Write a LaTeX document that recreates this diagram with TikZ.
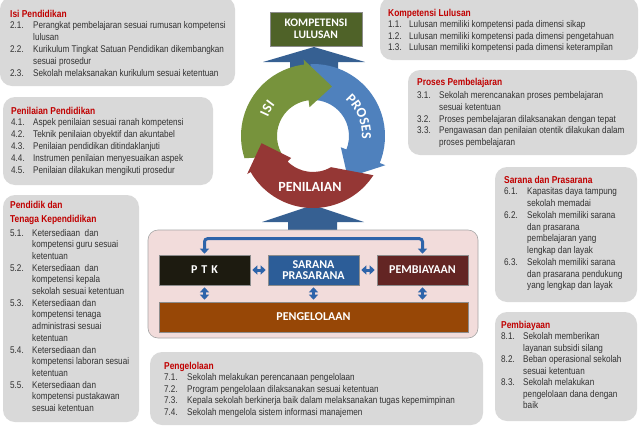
\documentclass[tikz,border=0pt]{standalone}
\usepackage{fontspec}
\setmainfont{Liberation Sans}
\newfontfamily\bodyf[FakeStretch=0.84]{Liberation Sans}
\newfontfamily\headf{Carlito}
\usetikzlibrary{arrows.meta,calc,decorations.text}
\definecolor{boxgray}{RGB}{217,217,217}
\definecolor{titlered}{RGB}{192,0,0}
\definecolor{bodytxt}{RGB}{50,50,50}
\definecolor{olivebox}{RGB}{79,98,40}
\definecolor{cgreen}{RGB}{119,147,60}
\definecolor{cblue}{RGB}{79,129,189}
\definecolor{cred}{RGB}{149,55,53}
\definecolor{upblue}{RGB}{54,96,146}
\definecolor{pinkbg}{RGB}{242,220,219}
\definecolor{ptkc}{RGB}{29,27,16}
\definecolor{sarc}{RGB}{44,93,152}
\definecolor{pembc}{RGB}{99,37,35}
\definecolor{pengc}{RGB}{151,71,6}
\definecolor{connc}{RGB}{46,100,170}
\newcommand\ttl[1]{\multicolumn{2}{@{}l@{}}{\textcolor{titlered}{\fontsize{10}{11}\selectfont\bfseries #1}}}
\newcommand\bsize[1]{\bodyf\fontsize{9.7}{#1}\selectfont}
\tikzset{
  graybox/.style={fill=boxgray, rounded corners=12pt},
  txtblock/.style={anchor=base west, inner sep=0pt, text=bodytxt},
  centerbox/.style={draw=black!45, line width=0.6pt, text=white, align=center, inner sep=0pt,
    font=\headf\bfseries\fontsize{12}{12}\selectfont},
  conn/.style={draw=connc, line width=3pt, {Triangle[width=9pt,length=5pt]}-{Triangle[width=9pt,length=5pt]}},
  cyctext/.style={text=white, inner sep=0pt, font=\headf\bfseries\fontsize{14}{14}\selectfont},
}
\begin{document}
\begin{tikzpicture}[x=1pt,y=-1pt]
\useasboundingbox (0,0) rectangle (640,426);
\fill[white] (0,0) rectangle (640,426);

% ---------- gray text boxes ----------
\path[graybox] (0,-3) rectangle (235,86);
\path[graybox] (3,97) rectangle (213,185);
\path[graybox] (3,195) rectangle (139,422);
\path[graybox] (380,-3) rectangle (638,60);
\path[graybox] (408,70) rectangle (637,155);
\path[graybox] (495,167) rectangle (637,302);
\path[graybox] (495,312) rectangle (637,421);
\path[graybox] (150,352) rectangle (483,425);

\node[txtblock] (t1) at (10,17) {\bsize{11.8}%
\begin{tabular}[t]{@{}p{23pt}@{}l@{}}
\ttl{Isi Pendidikan}\\
2.1. & Perangkat pembelajaran sesuai rumusan kompetensi\\
 & lulusan\\
2.2. & Kurikulum Tingkat Satuan Pendidikan dikembangkan\\
 & sesuai prosedur\\
2.3. & Sekolah melaksanakan kurikulum sesuai ketentuan
\end{tabular}};

\node[txtblock] (t2) at (11,114) {\bsize{11.8}%
\begin{tabular}[t]{@{}p{22pt}@{}l@{}}
\ttl{Penilaian Pendidikan}\\
4.1. & Aspek penilaian sesuai ranah kompetensi\\
4.2. & Teknik penilaian obyektif dan akuntabel\\
4.3. & Penilaian pendidikan ditindaklanjuti\\
4.4. & Instrumen penilaian menyesuaikan aspek\\
4.5. & Penilaian dilakukan mengikuti prosedur
\end{tabular}};

\node[txtblock] (t3) at (10,208) {\bsize{11.7}%
\begin{tabular}[t]{@{}p{22pt}@{}l@{}}
\ttl{Pendidik dan}\\[2.3pt]
\ttl{Tenaga Kependidikan}\\[2.3pt]
5.1. & Ketersediaan\ \ dan\\
 & kompetensi guru sesuai\\
 & ketentuan\\
5.2. & Ketersediaan\ \ dan\\
 & kompetensi kepala\\
 & sekolah sesuai ketentuan\\
5.3. & Ketersediaan dan\\
 & kompetensi tenaga\\
 & administrasi sesuai\\
 & ketentuan\\
5.4. & Ketersediaan dan\\
 & kompetensi laboran sesuai\\
 & ketentuan\\
5.5. & Ketersediaan dan\\
 & kompetensi pustakawan\\
 & sesuai ketentuan
\end{tabular}};

\node[txtblock] (t4) at (388,16) {\bsize{11.5}%
\begin{tabular}[t]{@{}p{21pt}@{}l@{}}
\ttl{Kompetensi Lulusan}\\
1.1. & Lulusan memiliki kompetensi pada dimensi sikap\\
1.2. & Lulusan memiliki kompetensi pada dimensi pengetahuan\\
1.3. & Lulusan memiliki kompetensi pada dimensi keterampilan
\end{tabular}};

\node[txtblock] (t5) at (417,85) {\bsize{11.7}%
\begin{tabular}[t]{@{}p{22pt}@{}l@{}}
\ttl{Proses Pembelajaran}\\[2pt]
3.1. & Sekolah merencanakan proses pembelajaran\\
 & sesuai ketentuan\\
3.2. & Proses pembelajaran dilaksanakan dengan tepat\\
3.3. & Pengawasan dan penilaian otentik dilakukan dalam\\
 & proses pembelajaran
\end{tabular}};

\node[txtblock] (t6) at (504,183) {\bsize{11.75}%
\begin{tabular}[t]{@{}p{23pt}@{}l@{}}
\ttl{Sarana dan Prasarana}\\
6.1. & Kapasitas daya tampung\\
 & sekolah memadai\\
6.2. & Sekolah memiliki sarana\\
 & dan prasarana\\
 & pembelajaran yang\\
 & lengkap dan layak\\
6.3. & Sekolah memiliki sarana\\
 & dan prasarana pendukung\\
 & yang lengkap dan layak
\end{tabular}};

\node[txtblock] (t7) at (501,328) {\bsize{11.5}%
\begin{tabular}[t]{@{}p{22pt}@{}l@{}}
\ttl{Pembiayaan}\\
8.1. & Sekolah memberikan\\
 & layanan subsidi silang\\
8.2. & Beban operasional sekolah\\
 & sesuai ketentuan\\
8.3. & Sekolah melakukan\\
 & pengelolaan dana dengan\\
 & baik
\end{tabular}};

\node[txtblock] (t8) at (164,369) {\bsize{11.5}%
\begin{tabular}[t]{@{}p{23pt}@{}l@{}}
\ttl{Pengelolaan}\\
7.1. & Sekolah melakukan perencanaan pengelolaan\\
7.2. & Program pengelolaan dilaksanakan sesuai ketentuan\\
7.3. & Kepala sekolah berkinerja baik dalam melaksanakan tugas kepemimpinan\\
7.4. & Sekolah mengelola sistem informasi manajemen
\end{tabular}};

% ---------- block arrows (up) ----------
\fill[upblue] (290,76) -- (290,62) -- (263,62) -- (314,47) -- (365,62) -- (338,62) -- (338,76) -- cycle;
\fill[upblue] (288,231) -- (288,222) -- (262,222) -- (313,205) -- (364,222) -- (337,222) -- (337,231) -- cycle;

% ---------- competency box ----------
\node[centerbox, fill=olivebox, minimum width=92pt, minimum height=34pt,
      font=\headf\bfseries\fontsize{11.5}{11.5}\selectfont] (komp) at (316,29) {KOMPETENSI\\LULUSAN};

% ---------- cycle ----------
\coordinate (C) at (313,136);
% blue PROSES
\fill[cblue] ($(C)+(268:72)$) arc[start angle=268, end angle=382, radius=72]
  -- ($(C)+(382:78)$) -- ($(C)+(410:54)$) -- ($(C)+(382:30)$) -- ($(C)+(382:36)$)
  arc[start angle=382, end angle=268, radius=36] -- cycle;
% green ISI
\fill[cgreen] ($(C)+(162:72)$) arc[start angle=162, end angle=263, radius=72]
  -- ($(C)+(263:77)$) -- ($(C)+(291:53)$) -- ($(C)+(263:29)$) -- ($(C)+(263:36)$)
  arc[start angle=263, end angle=146, radius=36] -- cycle;
% red PENILAIAN
\fill[cred] ($(C)+(33:72)$) arc[start angle=33, end angle=150, radius=72]
  -- ($(C)+(150:76)$) -- ($(C)+(172:52)$) -- ($(C)+(135:31)$) -- ($(C)+(135:36)$)
  arc[start angle=135, end angle=60, radius=36] -- cycle;

\path[decorate, decoration={text along path, text align=center,
   text={|\headf\bfseries\fontsize{14}{14}\selectfont\color{white}|ISI}}]
   ($(C)+(185:49)$) arc[start angle=185, end angle=237, radius=49];
\path[decorate, decoration={text along path, text align=center,
   text={|\headf\bfseries\fontsize{14}{14}\selectfont\color{white}|PROSES}}]
   ($(C)+(285:49)$) arc[start angle=285, end angle=390, radius=49];
\node[cyctext] (penilaian) at (310,187) {PENILAIAN};

% ---------- bottom container ----------
\node[draw=black!35, line width=0.6pt, fill=pinkbg, rounded corners=10pt,
      minimum width=330pt, minimum height=108pt, inner sep=0pt] (cont) at (313,284) {};
\node[centerbox, fill=ptkc, minimum width=91pt, minimum height=30pt] (ptk) at (204.5,270) {P\hspace{4pt}T\hspace{4pt}K};
\node[centerbox, fill=sarc, minimum width=91pt, minimum height=30pt,
      font=\headf\bfseries\fontsize{12}{11.5}\selectfont] (sar) at (313.5,270) {SARANA\\PRASARANA};
\node[centerbox, fill=pembc, minimum width=91pt, minimum height=30pt] (pemb) at (422.5,270) {PEMBIAYAAN};
\node[centerbox, fill=pengc, minimum width=309pt, minimum height=30pt] (peng) at (313.5,317) {PENGELOLAAN};

\draw[conn, rounded corners=3pt, shorten <=1pt, shorten >=1pt] (ptk.north) -- ++(0,-16) -| (pemb.north);
\draw[conn, shorten <=2pt, shorten >=2pt] (ptk.east) -- (sar.west);
\draw[conn, shorten <=2pt, shorten >=2pt] (sar.east) -- (pemb.west);
\draw[conn, shorten <=2pt, shorten >=2pt] (ptk.south) -- (ptk.south |- peng.north);
\draw[conn, shorten <=2pt, shorten >=2pt] (sar.south) -- (sar.south |- peng.north);
\draw[conn, shorten <=2pt, shorten >=2pt] (pemb.south) -- (pemb.south |- peng.north);
\end{tikzpicture}
\end{document}
